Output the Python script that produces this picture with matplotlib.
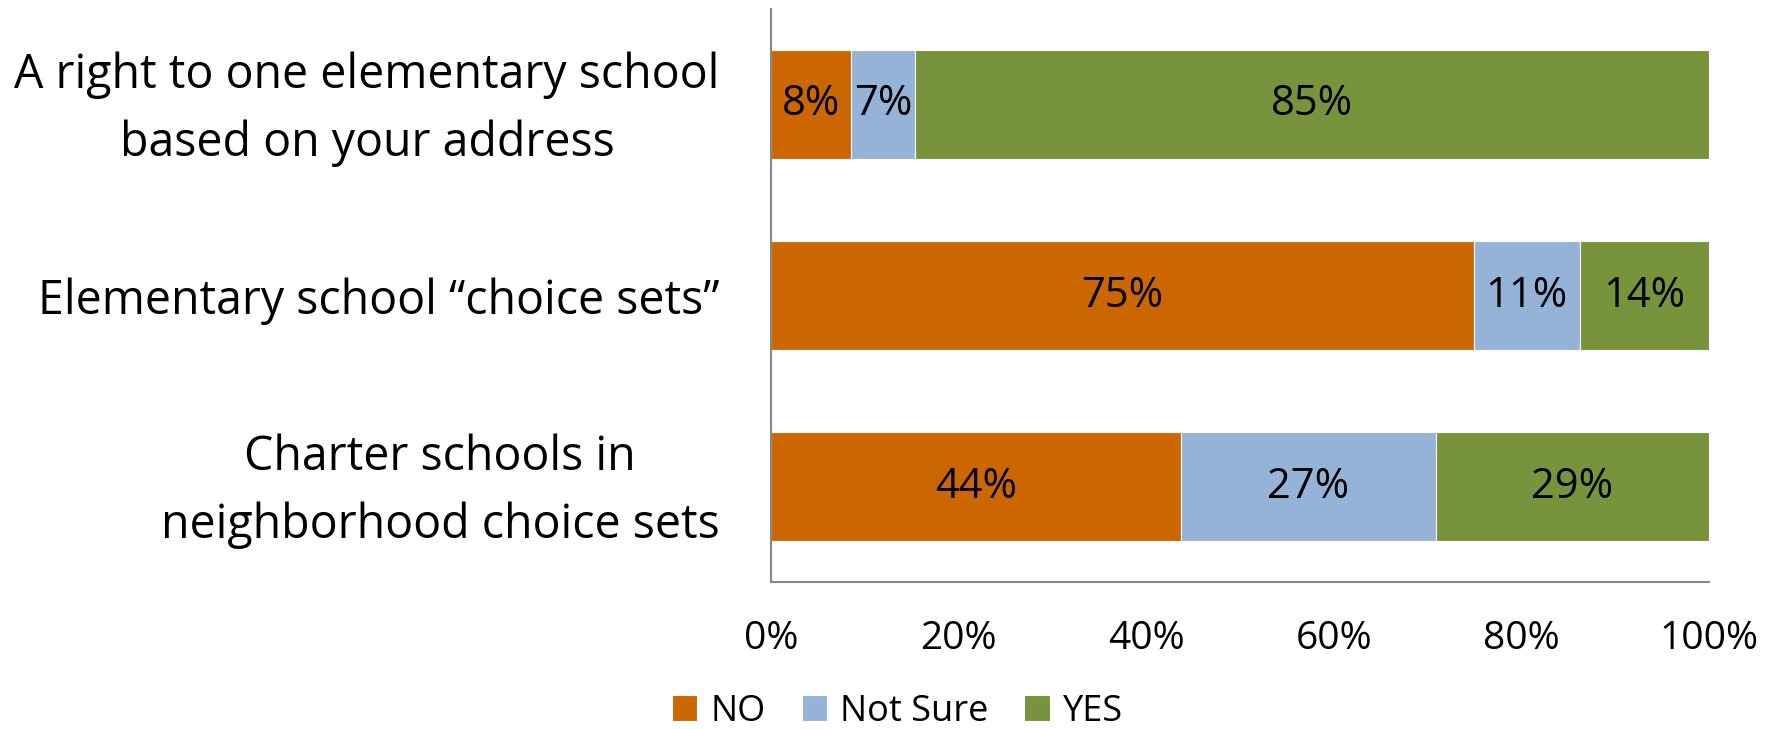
import numpy as np
import matplotlib.pyplot as plt
from matplotlib.transforms import ScaledTranslation

plt.rcParams['font.family'] = ['Open Sans', 'DejaVu Sans']

# data
categories = ['A right to one elementary school\nbased on your address',
              'Elementary school \u201cchoice sets\u201d',
              'Charter schools in\nneighborhood choice sets']
series = ['NO', 'Not Sure', 'YES']
no_vals = [8.5, 74.9, 43.7]
notsure_vals = [6.9, 11.3, 27.2]
yes_vals = [84.6, 13.8, 29.1]
no_labels = ['8%', '75%', '44%']
notsure_labels = ['7%', '11%', '27%']
yes_labels = ['85%', '14%', '29%']
xticks = [0, 20, 40, 60, 80, 100]

colors = ['#CC6600', '#95B3D7', '#77933C']

fig = plt.figure(figsize=(17.77, 7.29), dpi=100)
ax = fig.add_axes([0.4339, 0.2016, 0.9617 - 0.4339, 0.9877 - 0.2016])

y = np.arange(len(categories))
left = np.zeros(len(categories))
for vals, labels, name, c in zip([no_vals, notsure_vals, yes_vals],
                                 [no_labels, notsure_labels, yes_labels],
                                 series, colors):
    bars = ax.barh(y, vals, left=left, height=0.57, color=c,
                   edgecolor='white', linewidth=0.8, label=name)
    ax.bar_label(bars, labels=labels, label_type='center', fontsize=30)
    left = left + np.array(vals)

ax.set_ylim(2.5, -0.5)
ax.set_xlim(0, 100)
ax.set_yticks(y)
ax.set_yticklabels(categories, fontsize=33.5, multialignment='center',
                   linespacing=1.55)
ax.set_xticks(xticks)
ax.set_xticklabels([f'{t}%' for t in xticks], fontsize=28)
ax.tick_params(axis='y', length=0, pad=37)
ax.tick_params(axis='x', length=0, pad=27)

# two-line labels sit a bit low with va='center', nudge them up
shift = ScaledTranslation(0, 0.11, fig.dpi_scale_trans)
for lbl in ax.get_yticklabels():
    if '\n' in lbl.get_text():
        lbl.set_transform(lbl.get_transform() + shift)

for s in ['top', 'right']:
    ax.spines[s].set_visible(False)
for s in ['left', 'bottom']:
    ax.spines[s].set_color('#868686')
    ax.spines[s].set_linewidth(1.5)

fig.legend(loc='center', bbox_to_anchor=(0.505, 0.024), ncol=3,
           frameon=False, fontsize=26, handlelength=0.7, handleheight=0.7,
           handletextpad=0.36, columnspacing=1.0)

fig.savefig('out.png', dpi=100)
